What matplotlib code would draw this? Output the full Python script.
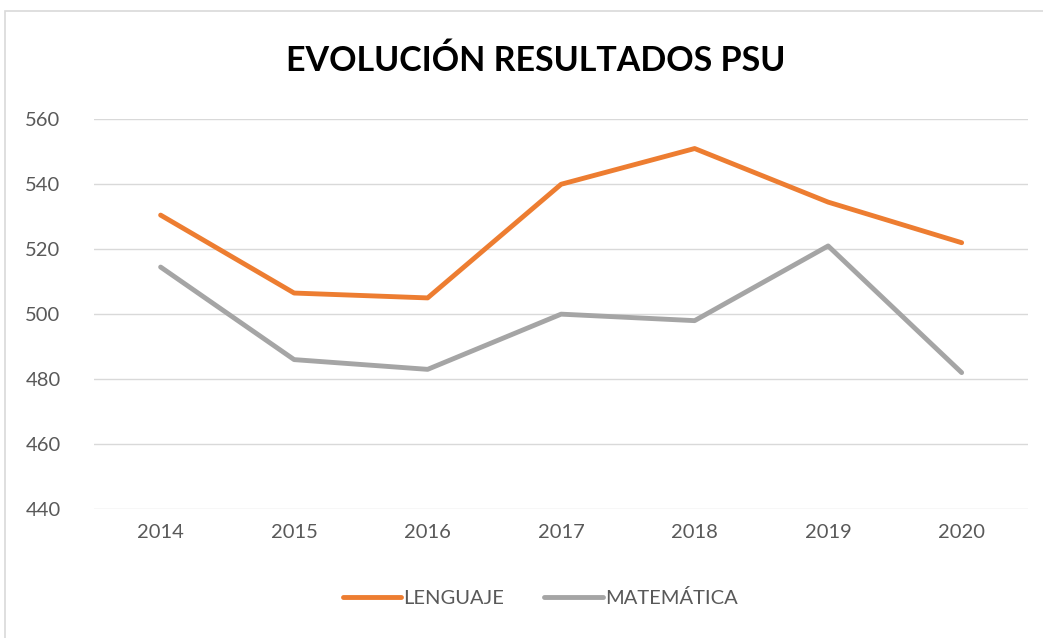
"""
Recreate the 'Evolución resultados PSU' line chart.
"""

import matplotlib
matplotlib.use("Agg")
import matplotlib.pyplot as plt
from matplotlib.patches import Rectangle
from matplotlib.lines import Line2D

years = ["2014", "2015", "2016", "2017", "2018", "2019", "2020"]
lenguaje = [530.5, 506.5, 505, 540, 551, 534.5, 522]
matematica = [514.5, 486, 483, 500, 498, 521, 482]
y_ticks = [440, 460, 480, 500, 520, 540, 560]

ORANGE = "#ED7D31"
GRAY = "#A5A5A5"
TEXT = "#595959"

plt.rcParams["font.family"] = ["Lato", "DejaVu Sans"]

fig = plt.figure(figsize=(10.43, 6.38), dpi=100)
ax = fig.add_axes([0.090, 0.2022, 0.896, 0.6108])

x = range(len(years))
ax.plot(x, lenguaje, color=ORANGE, lw=3.5, solid_capstyle="round", label="LENGUAJE")
ax.plot(x, matematica, color=GRAY, lw=3.5, solid_capstyle="round", label="MATEMÁTICA")

ax.set_xlim(-0.5, len(years) - 0.5)
ax.set_ylim(440, 560)
ax.set_yticks(y_ticks)
ax.set_xticks(list(x))
ax.set_xticklabels(years)
ax.tick_params(length=0, labelsize=14.5, colors=TEXT, pad=11)
ax.tick_params(axis="y", pad=24)
ax.grid(axis="y", color="#D9D9D9", lw=1)
ax.set_axisbelow(True)
for s in ax.spines.values():
    s.set_visible(False)

fig.text(0.514, 0.905, "EVOLUCIÓN RESULTADOS PSU", ha="center", va="center",
         fontsize=24.5, fontweight="bold", color="black")

handles = [Line2D([], [], color=ORANGE, lw=3.5, solid_capstyle="round"),
           Line2D([], [], color=GRAY, lw=3.5, solid_capstyle="round")]
fig.legend(handles, ["LENGUAJE", "MATEMÁTICA"], loc="center", bbox_to_anchor=(0.518, 0.062),
           ncol=2, frameon=False, fontsize=14.5, handlelength=2.9, handletextpad=0.1,
           columnspacing=2.0, labelcolor=TEXT)

fig.patches.append(Rectangle((0.005, -0.1), 1.2, 1.083, transform=fig.transFigure,
                             fill=False, edgecolor="#D9D9D9", lw=1.2))

fig.savefig("out.png", dpi=100)
